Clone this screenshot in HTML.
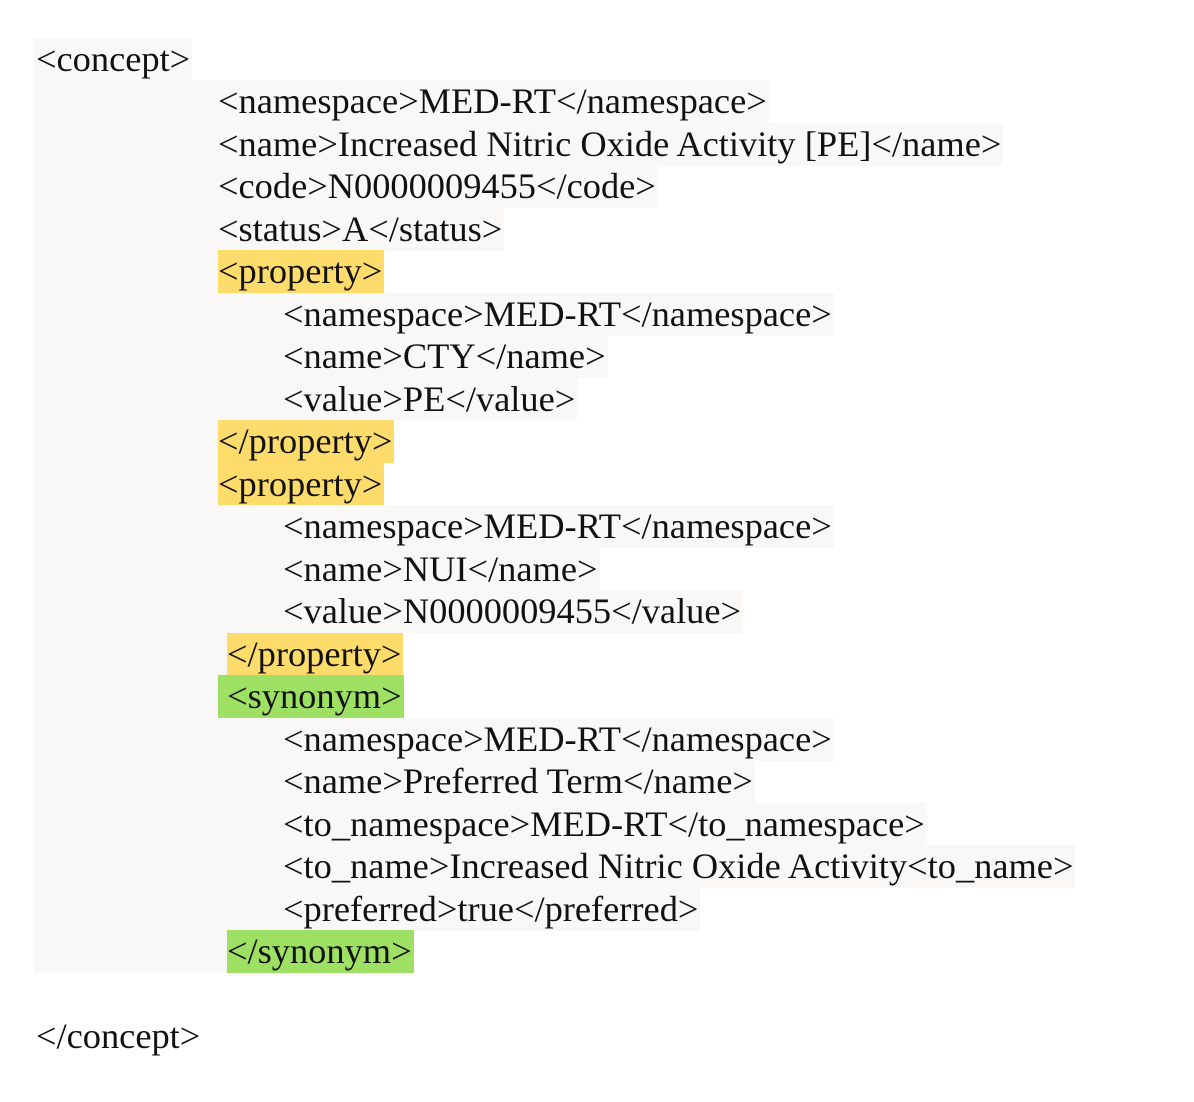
<!DOCTYPE html>
<html><head><meta charset="utf-8"><style>
html,body{margin:0;padding:0;background:#fff;width:1194px;height:1102px;overflow:hidden}
.r{position:absolute;left:34px;height:43px;display:flex;white-space:pre;font-family:"Liberation Serif",serif;font-size:36.4px;line-height:43px;color:#111}
.g{background:#f9f8f6}
.sp{background:#f9f8f6;height:43px}
.y{background:#fedc6b}
.gr{background:#9ee063}
.t{padding-right:2px}
</style></head><body>
<div class="r" style="top:38px"><span class="g t" style="padding-left:2px">&lt;concept&gt;</span></div>

<div class="r" style="top:80px"><div class="sp" style="width:184px"></div><span class="g t">&lt;namespace&gt;MED-RT&lt;/namespace&gt;</span></div>
<div class="r" style="top:123px"><div class="sp" style="width:184px"></div><span class="g t">&lt;name&gt;Increased Nitric Oxide Activity [PE]&lt;/name&gt;</span></div>
<div class="r" style="top:165px"><div class="sp" style="width:184px"></div><span class="g t">&lt;code&gt;N0000009455&lt;/code&gt;</span></div>
<div class="r" style="top:208px"><div class="sp" style="width:184px"></div><span class="g t">&lt;status&gt;A&lt;/status&gt;</span></div>
<div class="r" style="top:250px"><div class="sp" style="width:184px"></div><span class="y t">&lt;property&gt;</span></div>
<div class="r" style="top:293px"><div class="sp" style="width:249px"></div><span class="g t">&lt;namespace&gt;MED-RT&lt;/namespace&gt;</span></div>
<div class="r" style="top:335px"><div class="sp" style="width:249px"></div><span class="g t">&lt;name&gt;CTY&lt;/name&gt;</span></div>
<div class="r" style="top:378px"><div class="sp" style="width:249px"></div><span class="g t">&lt;value&gt;PE&lt;/value&gt;</span></div>
<div class="r" style="top:420px"><div class="sp" style="width:184px"></div><span class="y t">&lt;/property&gt;</span></div>
<div class="r" style="top:463px"><div class="sp" style="width:184px"></div><span class="y t">&lt;property&gt;</span></div>
<div class="r" style="top:505px"><div class="sp" style="width:249px"></div><span class="g t">&lt;namespace&gt;MED-RT&lt;/namespace&gt;</span></div>
<div class="r" style="top:548px"><div class="sp" style="width:249px"></div><span class="g t">&lt;name&gt;NUI&lt;/name&gt;</span></div>
<div class="r" style="top:590px"><div class="sp" style="width:249px"></div><span class="g t">&lt;value&gt;N0000009455&lt;/value&gt;</span></div>
<div class="r" style="top:633px"><div class="sp" style="width:193px"></div><span class="y t">&lt;/property&gt;</span></div>
<div class="r" style="top:675px"><div class="sp" style="width:184px"></div><span class="gr t"> &lt;synonym&gt;</span></div>
<div class="r" style="top:718px"><div class="sp" style="width:249px"></div><span class="g t">&lt;namespace&gt;MED-RT&lt;/namespace&gt;</span></div>
<div class="r" style="top:760px"><div class="sp" style="width:249px"></div><span class="g t">&lt;name&gt;Preferred Term&lt;/name&gt;</span></div>
<div class="r" style="top:803px"><div class="sp" style="width:249px"></div><span class="g t">&lt;to_namespace&gt;MED-RT&lt;/to_namespace&gt;</span></div>
<div class="r" style="top:845px"><div class="sp" style="width:249px"></div><span class="g t">&lt;to_name&gt;Increased Nitric Oxide Activity&lt;to_name&gt;</span></div>
<div class="r" style="top:888px"><div class="sp" style="width:249px"></div><span class="g t">&lt;preferred&gt;true&lt;/preferred&gt;</span></div>
<div class="r" style="top:930px"><div class="sp" style="width:193px"></div><span class="gr t">&lt;/synonym&gt;</span></div>

<div class="r" style="top:1015px"><span style="padding-left:2px">&lt;/concept&gt;</span></div>
</body></html>
